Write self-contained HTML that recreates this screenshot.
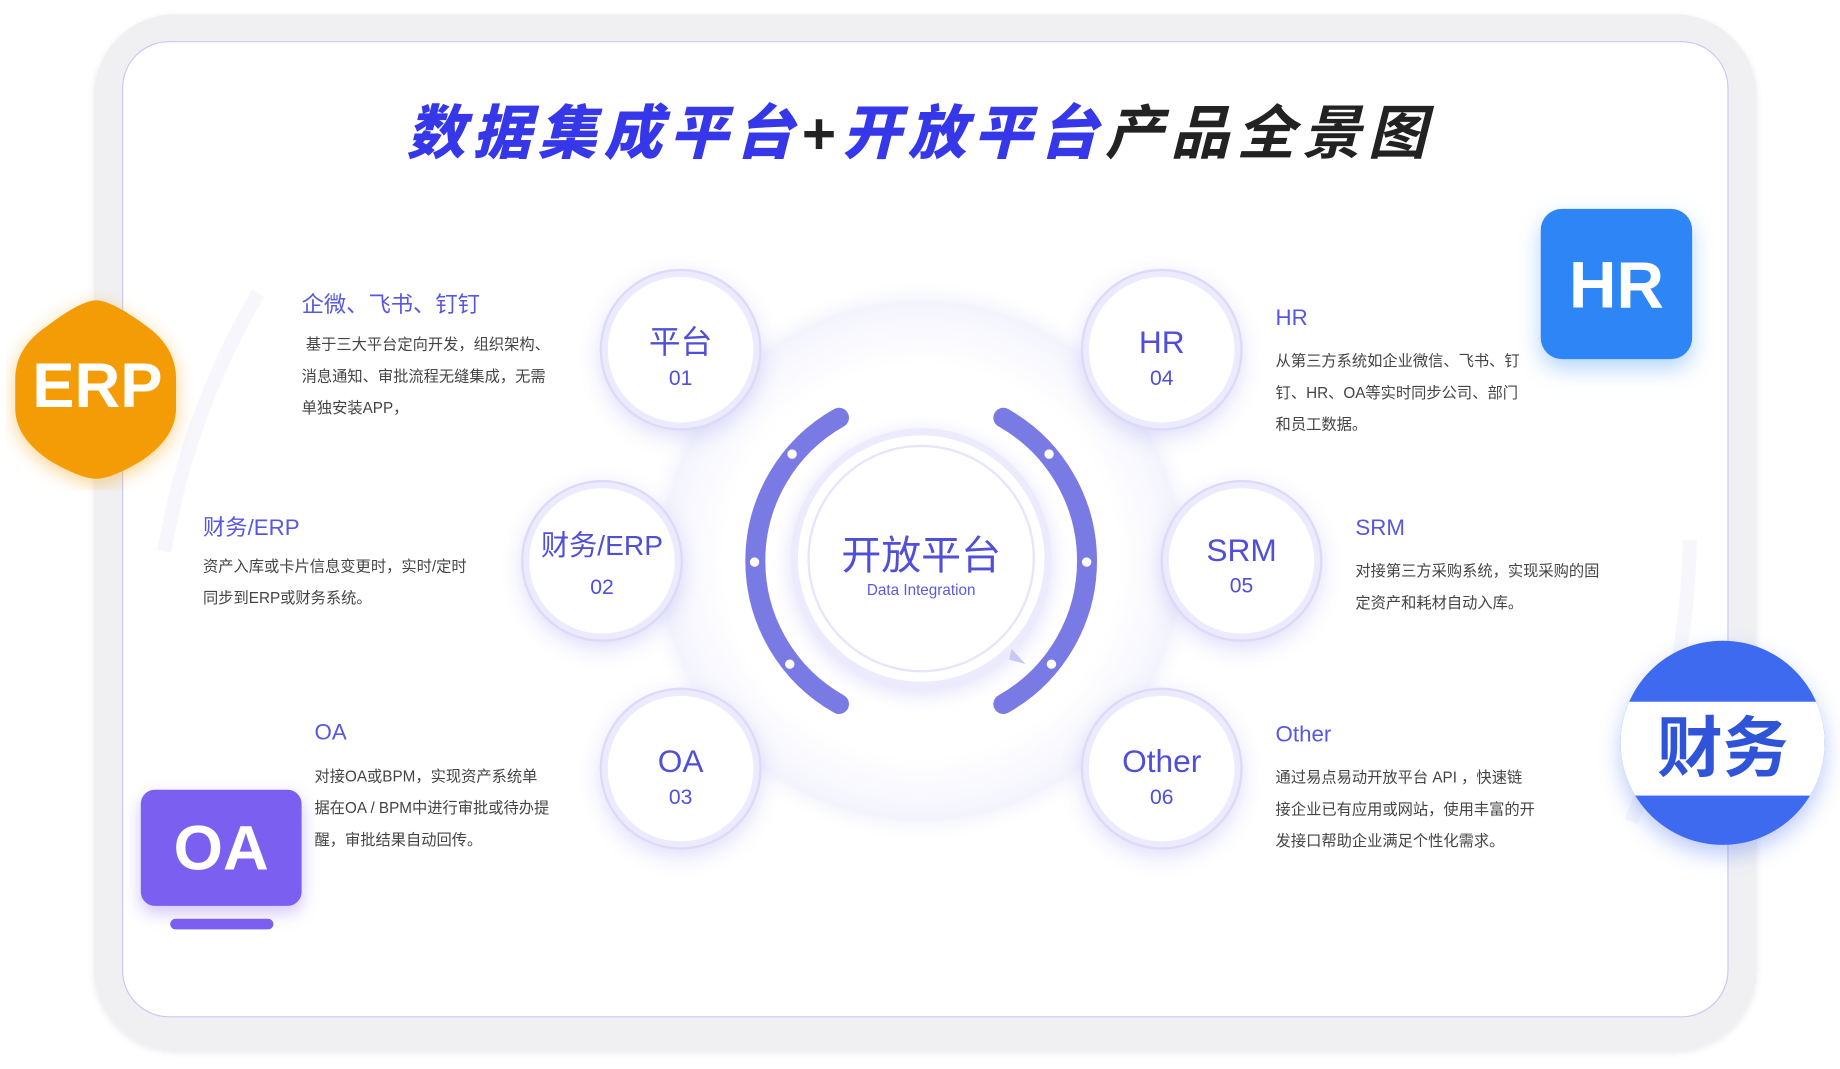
<!DOCTYPE html>
<html><head><meta charset="utf-8"><style>
html,body{margin:0;padding:0;width:1840px;height:1069px;overflow:hidden;background:#fff;}
#w{position:absolute;left:0;top:0;width:1568px;height:911px;transform:scale(1.17347,1.17344);transform-origin:0 0;font-family:"Liberation Sans","Noto Sans CJK SC",sans-serif;}
.abs{position:absolute;}
.frame{left:80px;top:12px;width:1417px;height:883px;border-radius:70px;background:#f0f0f2;box-shadow:0 2px 6px rgba(0,0,0,0.08);}
.panel{left:104px;top:35px;width:1369px;height:832px;border-radius:40px;background:#fff;border:1px solid #c9c8f4;box-sizing:border-box;}
.title{left:0;width:1568px;top:74px;text-align:center;font-size:50px;font-weight:bold;font-style:italic;letter-spacing:6px;color:#222;}
.title b{color:#3537e8;}
.sc{width:124px;height:124px;border-radius:50%;background:#fff;box-shadow:0 0 0 5px #ecebfd,0 0 0 7px #dcdaf9,0 6px 18px 6px rgba(120,115,235,0.25);text-align:center;color:#4f4fd8;}
.sc .a{font-size:27px;margin-top:40px;line-height:32px;}
.sc .n{font-size:18px;margin-top:4px;}
.h{color:#5757e0;font-size:19px;}
.p{color:#444;font-size:13px;line-height:27px;}
</style></head><body><div id="w">
<div class="abs frame"></div>
<div class="abs panel"></div>
<svg class="abs" style="left:0;top:0" width="1568" height="911">
<defs>
<radialGradient id="g1" cx="50%" cy="50%" r="50%"><stop offset="0.7" stop-color="#fff"/><stop offset="0.92" stop-color="#f4f4fd"/><stop offset="1" stop-color="#fff" stop-opacity="0"/></radialGradient>
<filter id="bl"><feGaussianBlur stdDeviation="8"/></filter>
</defs>
<circle cx="785" cy="478" r="240" fill="url(#g1)"/>
<path d="M140 470 A650 650 0 0 1 220 250" stroke="#f6f6fc" stroke-width="12" fill="none"/>
<path d="M1440 460 A650 650 0 0 1 1390 700" stroke="#f6f6fc" stroke-width="12" fill="none"/>
<circle cx="785" cy="480" r="112" fill="#e3e1fb" filter="url(#bl)"/>
<circle cx="785" cy="476" r="108" fill="#fff" stroke="#eceafd" stroke-width="6"/>
<circle cx="785" cy="476" r="96" fill="#fff" stroke="#e6e5fb" stroke-width="2"/>
<path d="M715 356 A140 140 0 0 0 715 600" stroke="#7a7ae4" stroke-width="17" stroke-linecap="round" fill="none"/>
<path d="M855 356 A140 140 0 0 1 855 600" stroke="#7a7ae4" stroke-width="17" stroke-linecap="round" fill="none"/>
<g fill="#fff"><circle cx="675" cy="387" r="4"/><circle cx="643" cy="479" r="4"/><circle cx="673" cy="566" r="4"/><circle cx="894" cy="387" r="4"/><circle cx="926" cy="479" r="4"/><circle cx="896" cy="566" r="4"/></g>
<polygon points="862,553 874,566 860,562" fill="#c9c8f4"/>
</svg>
<div class="abs title"><b>数据集成平台</b>+<b>开放平台</b>产品全景图</div>
<div class="abs" style="left:685px;top:446px;width:200px;text-align:center;color:#4f4fd8;font-size:34px;">开放平台</div>
<div class="abs" style="left:685px;top:495px;width:200px;text-align:center;color:#5a5ae0;font-size:13px;">Data Integration</div>

<div class="abs sc" style="left:518px;top:236px"><div class="a">平台</div><div class="n">01</div></div>
<div class="abs sc" style="left:928px;top:236px"><div class="a">HR</div><div class="n">04</div></div>
<div class="abs sc" style="left:451px;top:416px"><div class="a" style="font-size:24px;margin-top:34px">财务/ERP</div><div class="n" style="margin-top:8px">02</div></div>
<div class="abs sc" style="left:996px;top:416px"><div class="a" style="margin-top:37px">SRM</div><div class="n">05</div></div>
<div class="abs sc" style="left:518px;top:593px"><div class="a">OA</div><div class="n">03</div></div>
<div class="abs sc" style="left:928px;top:593px"><div class="a">Other</div><div class="n">06</div></div>

<div class="abs h" style="left:257px;top:245px">企微、飞书、钉钉</div>
<div class="abs p" style="left:257px;top:280px;width:220px">&nbsp;基于三大平台定向开发，组织架构、消息通知、审批流程无缝集成，无需单独安装APP，</div>
<div class="abs h" style="left:173px;top:435px">财务/ERP</div>
<div class="abs p" style="left:173px;top:469px;width:230px">资产入库或卡片信息变更时，实时/定时同步到ERP或财务系统。</div>
<div class="abs h" style="left:268px;top:614px">OA</div>
<div class="abs p" style="left:268px;top:648px;width:202px">对接OA或BPM，实现资产系统单据在OA / BPM中进行审批或待办提醒，审批结果自动回传。</div>
<div class="abs h" style="left:1087px;top:261px">HR</div>
<div class="abs p" style="left:1087px;top:294px;width:218px">从第三方系统如企业微信、飞书、钉钉、HR、OA等实时同步公司、部门和员工数据。</div>
<div class="abs h" style="left:1155px;top:440px">SRM</div>
<div class="abs p" style="left:1155px;top:473px;width:220px">对接第三方采购系统，实现采购的固定资产和耗材自动入库。</div>
<div class="abs h" style="left:1087px;top:616px">Other</div>
<div class="abs p" style="left:1087px;top:649px;width:222px">通过易点易动开放平台 API ，快速链接企业已有应用或网站，使用丰富的开发接口帮助企业满足个性化需求。</div>

<svg class="abs" style="left:5px;top:248px" width="160" height="170"><path d="M77 8 Q90 8 120 30 Q145 48 145 75 L145 100 Q145 125 115 145 Q90 160 77 160 Q64 160 38 145 Q8 125 8 100 L8 75 Q8 48 35 30 Q64 8 77 8Z" fill="#f39c05" style="filter:drop-shadow(0 4px 8px rgba(243,156,5,.45))"/></svg>
<div class="abs" style="left:13px;top:298px;width:140px;text-align:center;color:#fff;font-size:54px;font-weight:bold;">ERP</div>

<div class="abs" style="left:1313px;top:178px;width:129px;height:128px;border-radius:18px;background:#2e86f6;box-shadow:0 8px 18px rgba(46,134,246,.35);color:#fff;font-size:56px;font-weight:bold;text-align:center;line-height:130px;">HR</div>

<div class="abs" style="left:1381px;top:546px;width:174px;height:174px;border-radius:50%;background:#3e6af0;overflow:hidden;box-shadow:0 8px 18px rgba(62,106,240,.35);"><div style="position:absolute;left:0;top:52px;width:174px;height:80px;background:#fff;"></div><div style="position:absolute;left:0;top:52px;width:174px;text-align:center;line-height:80px;color:#2f54d8;font-size:56px;font-weight:bold;">财务</div></div>

<div class="abs" style="left:120px;top:673px;width:137px;height:99px;border-radius:12px;background:#7a5ff0;box-shadow:0 6px 14px rgba(122,95,240,.35);color:#fff;font-size:54px;font-weight:bold;text-align:center;line-height:100px;">OA</div>
<div class="abs" style="left:145px;top:783px;width:88px;height:9px;border-radius:5px;background:#7a5ff0;"></div>
</div></body></html>
